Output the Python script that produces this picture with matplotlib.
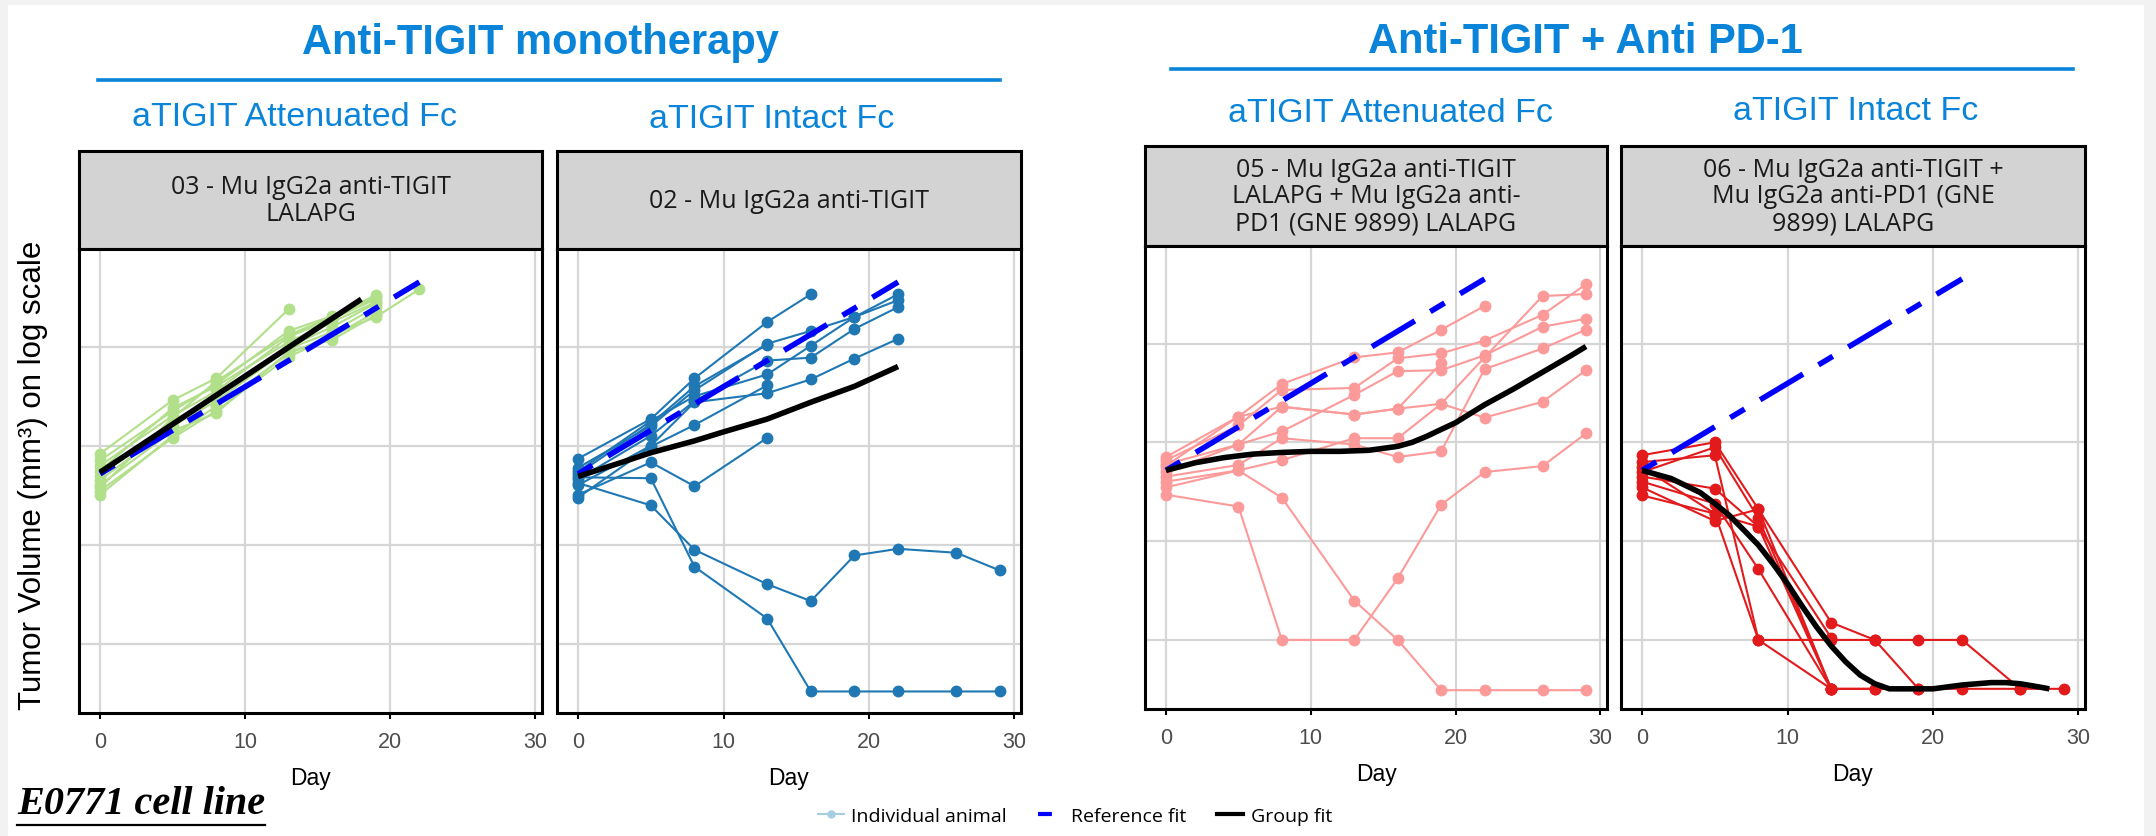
import matplotlib.pyplot as plt
from matplotlib.lines import Line2D
from matplotlib.patches import Rectangle
from matplotlib.ticker import NullLocator

plt.rcParams['font.family'] = ['Liberation Sans', 'DejaVu Sans']
plt.rcParams['lines.scale_dashes'] = False

W, H = 2156, 837

# measurement days (each animal uses the first len(values) of them)
DAYS = [0, 5, 8, 13, 16, 19, 22, 26, 29]

# tumour volume (mm3) per animal
mono_attenuated = [
    [83, 288, 479, 2399],
    [71, 224, 417, 1445, 2042, 3311],
    [63, 200, 355, 1259, 1905, 3020],
    [56, 240, 398, 1122, 1778, 2818],
    [50, 178, 316, 1000, 1585, 2754],
    [45, 158, 282, 955, 1413, 2512],
    [40, 141, 214, 891, 1175, 2089],
    [35, 120, 224, 794, 1259, 2239],
    [32, 126, 251, 851, 1318, 1995, 3802],
    [38, 191, 447, 1318, 1995, 3162],
]
mono_intact = [
    [74, 186, 479, 1778, 3388],
    [60, 158, 363, 1072, 1445, 1995, 3388],
    [55, 178, 316, 525, 1023, 1995, 2951],
    [46, 126, 282, 724, 776, 1514, 2512],
    [40, 100, 275, 339, 468, 759, 1202],
    [52, 166, 398, 1047],
    [32, 68, 39, 120],
    [42, 25, 8.9, 4.0, 2.7, 7.8, 9.1, 8.3, 5.5],
    [48, 47, 6.0, 1.8, 0.33, 0.33, 0.33, 0.33, 0.33],
    [30, 98, 162, 407],
]
combo_attenuated = [
    [71, 182, 389, 724, 813, 1380, 2399],
    [66, 148, 339, 355, 708, 794, 1072, 1950, 3981],
    [58, 182, 229, 191, 219, 245, 724, 3020, 3162],
    [50, 95, 129, 302, 525, 537, 759, 1479, 1778],
    [45, 59, 110, 95, 71, 81, 550, 891, 1380],
    [40, 52, 66, 110, 110, 245, 178, 257, 537],
    [35, 52, 27.5, 2.5, 1.0, 0.31, 0.31, 0.31, 0.31],
    [29.5, 22.4, 1.0, 1.0, 4.2, 23.4, 50, 57.5, 123],
    [60, 95, 229, 191, 219, 631],
]
combo_intact = [
    [74, 100, 21, 1.5, 1.0, 0.32],
    [63, 74, 1.0, 1.0, 1.0, 1.0, 1.0, 0.32],
    [56, 19, 1.0, 0.32],
    [50, 89, 17, 0.32, 0.32, 0.32, 0.32, 0.32, 0.32],
    [45, 34, 14, 0.32],
    [40, 24, 5.2, 0.32, 0.32],
    [35, 16, 21, 0.32],
    [29, 19, 14, 1.05],
]

# reference fit (same untreated reference in every panel)
ref_days = [0, 22]
ref_vol = [52, 4500]

# group fits
fit1_days = [0, 18]
fit1_vol = [54, 3020]
fit2_days = [0, 3, 5, 8, 10, 13, 16, 19, 22]
fit2_vol = [49, 68, 85, 112, 138, 186, 275, 398, 631]
fit3_days = [0, 2, 4, 6, 8, 10, 12, 14, 16, 17, 18, 19, 20, 21, 22, 24, 26, 28, 29]
fit3_vol = [52, 62, 70, 76, 79, 81, 81, 83, 91, 100, 115, 135, 158, 195, 240, 347, 513, 760, 933]
fit4_days = [0, 2, 4, 5, 6, 7, 8, 9, 10, 11, 12, 13, 14, 15, 16, 17, 18, 19, 20, 22, 24, 25, 26, 27, 28]
fit4_vol = [52, 43, 31, 24, 18.2, 12.9, 9.1, 5.9, 3.7, 2.2, 1.35, 0.87, 0.60, 0.44, 0.36, 0.32,
            0.32, 0.32, 0.32, 0.35, 0.37, 0.37, 0.36, 0.34, 0.32]

strip_labels = [
    "03 - Mu IgG2a anti-TIGIT\nLALAPG",
    "02 - Mu IgG2a anti-TIGIT",
    "05 - Mu IgG2a anti-TIGIT\nLALAPG + Mu IgG2a anti-\nPD1 (GNE 9899) LALAPG",
    "06 - Mu IgG2a anti-TIGIT +\nMu IgG2a anti-PD1 (GNE\n9899) LALAPG",
]
panel_colors = ['#b2df8a', '#1f78b4', '#fb9a99', '#e31a1c']
BLUE = '#0a84d9'


def box(x0, y0, x1, y1):
    return [x0 / W, 1 - y1 / H, (x1 - x0) / W, (y1 - y0) / H]


fig = plt.figure(figsize=(W / 100, H / 100), dpi=100)
fig.patch.set_facecolor('#f2f2f2')
fig.add_artist(Rectangle((8 / W, 0), (2144 - 8) / W, 1 - 6 / H, transform=fig.transFigure,
                         facecolor='white', edgecolor='none', zorder=-10))

# x0, x1, strip top, plot top, plot bottom (pixels)
layout = [(79, 542, 152, 250, 714), (557, 1021, 152, 250, 714),
          (1145, 1607, 147, 247, 710), (1621, 2085, 147, 247, 710)]
animals = [mono_attenuated, mono_intact, combo_attenuated, combo_intact]
fits = [(fit1_days, fit1_vol), (fit2_days, fit2_vol), (fit3_days, fit3_vol), (fit4_days, fit4_vol)]

for i, (x0, x1, st, pt, pb) in enumerate(layout):
    # strip
    sax = fig.add_axes(box(x0, st, x1, pt))
    sax.set_facecolor('#d3d3d3')
    sax.set_xticks([])
    sax.set_yticks([])
    for s in sax.spines.values():
        s.set_linewidth(2.2)
    sax.text(0.5, 0.5, strip_labels[i], ha='center', va='center', fontsize=18,
             family=['Open Sans', 'DejaVu Sans'], color='#1a1a1a', linespacing=1.08,
             transform=sax.transAxes)

    ax = fig.add_axes(box(x0, pt, x1, pb))
    for vols in animals[i]:
        ax.plot(DAYS[:len(vols)], vols, '-o', color=panel_colors[i], lw=1.5, ms=7.5, zorder=2)
    ax.plot(ref_days, ref_vol, color='#0000ff', lw=4, dashes=(12, 13, 36, 13),
            dash_capstyle='butt', zorder=3)
    ax.plot(fits[i][0], fits[i][1], color='black', lw=4, solid_capstyle='butt',
            solid_joinstyle='round', zorder=4)

    ax.set_yscale('log')
    ax.set_ylim(0.2, 9700)
    ax.set_xlim(-1.45, 30.45)
    ax.set_yticks([1, 10, 100, 1000])
    ax.set_yticklabels([])
    ax.yaxis.set_minor_locator(NullLocator())
    ax.tick_params(axis='y', length=0)
    ax.set_xticks([0, 10, 20, 30])
    ax.tick_params(axis='x', length=4, width=1.5, labelsize=15.5, labelcolor='#4d4d4d', pad=9)
    ax.grid(True, color='#d6d6d6', lw=1.6)
    ax.set_axisbelow(True)
    for s in ax.spines.values():
        s.set_linewidth(2.2)
    ax.set_xlabel('Day', fontsize=16.5, labelpad=10)

fig.text(33 / W, 1 - 475 / H, 'Tumor Volume (mm³) on log scale', rotation=90,
         ha='center', va='center', fontsize=22.5)

# group titles
fig.text(540 / W, 1 - 43 / H, 'Anti-TIGIT monotherapy', ha='center', va='center',
         fontsize=30, weight='bold', color=BLUE)
fig.text(1585 / W, 1 - 42 / H, 'Anti-TIGIT + Anti PD-1', ha='center', va='center',
         fontsize=30, weight='bold', color=BLUE)
fig.add_artist(Line2D([98 / W, 1000 / W], [1 - 81 / H] * 2, color=BLUE, lw=2.6))
fig.add_artist(Line2D([1171 / W, 2073 / W], [1 - 70 / H] * 2, color=BLUE, lw=2.6))

subtitles = [('aTIGIT Attenuated Fc', 294, 117), ('aTIGIT Intact Fc', 772, 120),
             ('aTIGIT Attenuated Fc', 1391, 113), ('aTIGIT Intact Fc', 1856, 112)]
for txt, x, y in subtitles:
    fig.text(x / W, 1 - y / H, txt, ha='center', va='center', fontsize=24.5, color=BLUE)

# legend
handles = [
    Line2D([], [], color='#a6cee3', lw=1.5, marker='o', ms=5),
    Line2D([], [], color='#0000ff', lw=3, dashes=(10, 20)),
    Line2D([], [], color='black', lw=3),
]
fig.legend(handles, ['Individual animal', 'Reference fit', 'Group fit'], loc='center',
           bbox_to_anchor=(1075 / W, 1 - 817 / H), ncol=3, frameon=False,
           prop={'family': ['Open Sans', 'DejaVu Sans'], 'size': 14},
           handlelength=1.3, handletextpad=0.4, columnspacing=1.6)

# cell line note, underlined
note = fig.text(17 / W, 1 - 805 / H, 'E0771 cell line', ha='left', va='center', fontsize=29,
                family=['Liberation Serif', 'DejaVu Serif'], weight='bold', style='italic')
fig.canvas.draw()
bb = note.get_window_extent().transformed(fig.transFigure.inverted())
fig.add_artist(Line2D([bb.x0, bb.x1], [1 - 826 / H] * 2, color='black', lw=1.6))

fig.savefig('out.png', dpi=100, facecolor=fig.get_facecolor())
